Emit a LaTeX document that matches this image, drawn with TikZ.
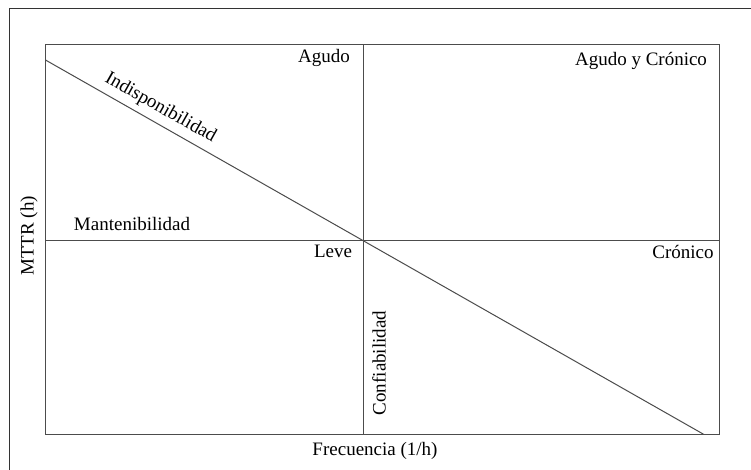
\documentclass[tikz,border=0pt]{standalone}
\usepackage{fontspec}
\setmainfont{Liberation Serif}
\begin{document}
\begin{tikzpicture}[x=1pt,y=-1pt,
  lbl/.style={inner sep=0pt,font=\fontsize{19}{22}\selectfont},
  frameline/.style={draw=black!80,line width=1pt},
  axisline/.style={draw=black!70,line width=1pt}]
\useasboundingbox (0,0) rectangle (751,469);
\fill[white] (0,0) rectangle (751,469);
% outer frame (right and bottom outside the picture)
\draw[frameline] (9.5,480) -- (9.5,8.5) -- (760,8.5);
% inner box
\coordinate (tl) at (45.5,44.5);
\coordinate (br) at (719.5,434.5);
\draw[axisline] (tl) rectangle (br);
\coordinate (c) at (363,240);
\coordinate (vt) at (363,44.5);
\coordinate (vb) at (363,434.5);
\coordinate (hl) at (45.5,240);
\coordinate (hr) at (719.5,240);
\coordinate (d1) at (45.5,60);
\coordinate (d2) at (704,434.5);
\draw[axisline] (vt) -- (vb);
\draw[axisline] (hl) -- (hr);
\draw[axisline] (d1) -- (d2);
% labels
\node[lbl] (agudo) at (324,58) {Agudo};
\node[lbl] (ayc) at (641,61) {Agudo y Crónico};
\node[lbl] (mant) at (132,224) {Mantenibilidad};
\node[lbl] (leve) at (333,251) {Leve};
\node[lbl] (cron) at (683,252) {Crónico};
\node[lbl,rotate=90] (conf) at (379,363) {Confiabilidad};
\node[lbl,rotate=90] (mttr) at (29,236) {MTTR (h)};
\node[lbl] (frec) at (375,451) {Frecuencia (1/h)};
\node[lbl,rotate=-29.5] (indis) at (160.5,108) {Indisponibilidad};
\end{tikzpicture}
\end{document}
